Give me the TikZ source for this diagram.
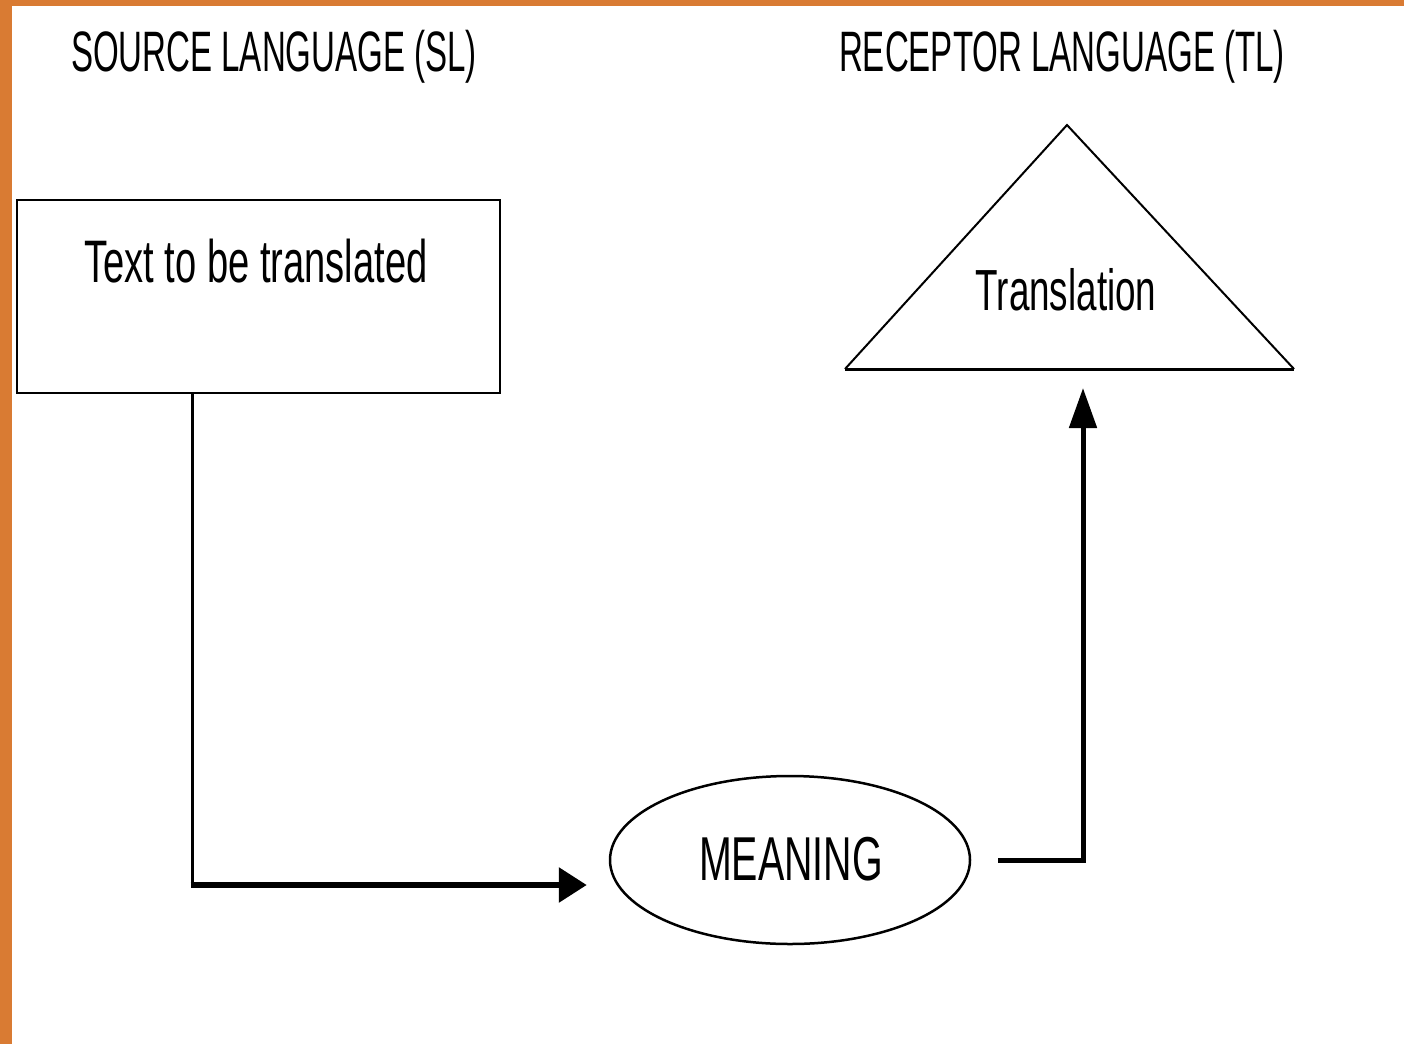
\documentclass[tikz,border=0pt]{standalone}
\usepackage{fontspec}
\usetikzlibrary{arrows.meta,shapes.geometric}
\newfontfamily\condtitle[FakeStretch=0.58]{Liberation Sans}
\newfontfamily\condbody[FakeStretch=0.635]{Liberation Sans}
\definecolor{frameorange}{HTML}{D97B33}
\tikzset{
  titletext/.style={anchor=base,inner sep=0pt,font=\condtitle\fontsize{57}{57}\selectfont},
  bodytext/.style={anchor=base,inner sep=0pt,font=\condbody\fontsize{60}{60}\selectfont},
  boxshape/.style={draw,line width=2.6pt,minimum width=483pt,minimum height=193pt,inner sep=0pt},
  thinlink/.style={line width=3pt},
  thicklink/.style={line width=6pt,-{Triangle[length=28pt,width=34pt]}},
  uplink/.style={line width=5pt,-{Triangle[length=40pt,width=27pt]}},
}
\begin{document}
\begin{tikzpicture}[x=1pt,y=-1pt]
\useasboundingbox (0,0) rectangle (1404,1044);
\fill[frameorange] (0,0) rectangle (1404,1044);
\fill[white] (12,6) rectangle (1404,1044);
% titles
\node[titletext] (sltitle) at (274,71) {SOURCE LANGUAGE (SL)};
\node[titletext] (tltitle) at (1062,71) {RECEPTOR LANGUAGE (TL)};
% source box
\node[boxshape] (src) at (258.5,296.5) {};
\node[bodytext] (srctext) at (256,282) {Text to be translated};
% triangle
\coordinate (tapex) at (1067,125);
\coordinate (tleft) at (845,369);
\coordinate (tright) at (1294,369);
\coordinate (tbase) at (1083,369);
\draw[line width=2pt,line join=miter] (tleft) -- (tapex) -- (tright);
\draw[line width=3pt] (tleft) -- (tright);
\node[bodytext,font=\condbody\fontsize{58}{58}\selectfont] (trtext) at (1066,310) {Translation};
% meaning ellipse
\node[draw,ellipse,line width=2.5pt,minimum width=360pt,minimum height=168pt,inner sep=0pt] (mean) at (790,860) {};
\node[bodytext,font=\condbody\fontsize{62}{62}\selectfont] (meantext) at (791,880) {MEANING};
% connectors
\coordinate (bend1) at (192,885);
\draw[thinlink] (src.south -| bend1) -- (bend1);
\draw[thicklink,shorten >=22pt] ([xshift=-1.5pt]bend1) -- (mean.west |- bend1);
\draw[uplink,shorten >=19pt] ([xshift=27pt]mean.east) -| (tbase);
\end{tikzpicture}
\end{document}
